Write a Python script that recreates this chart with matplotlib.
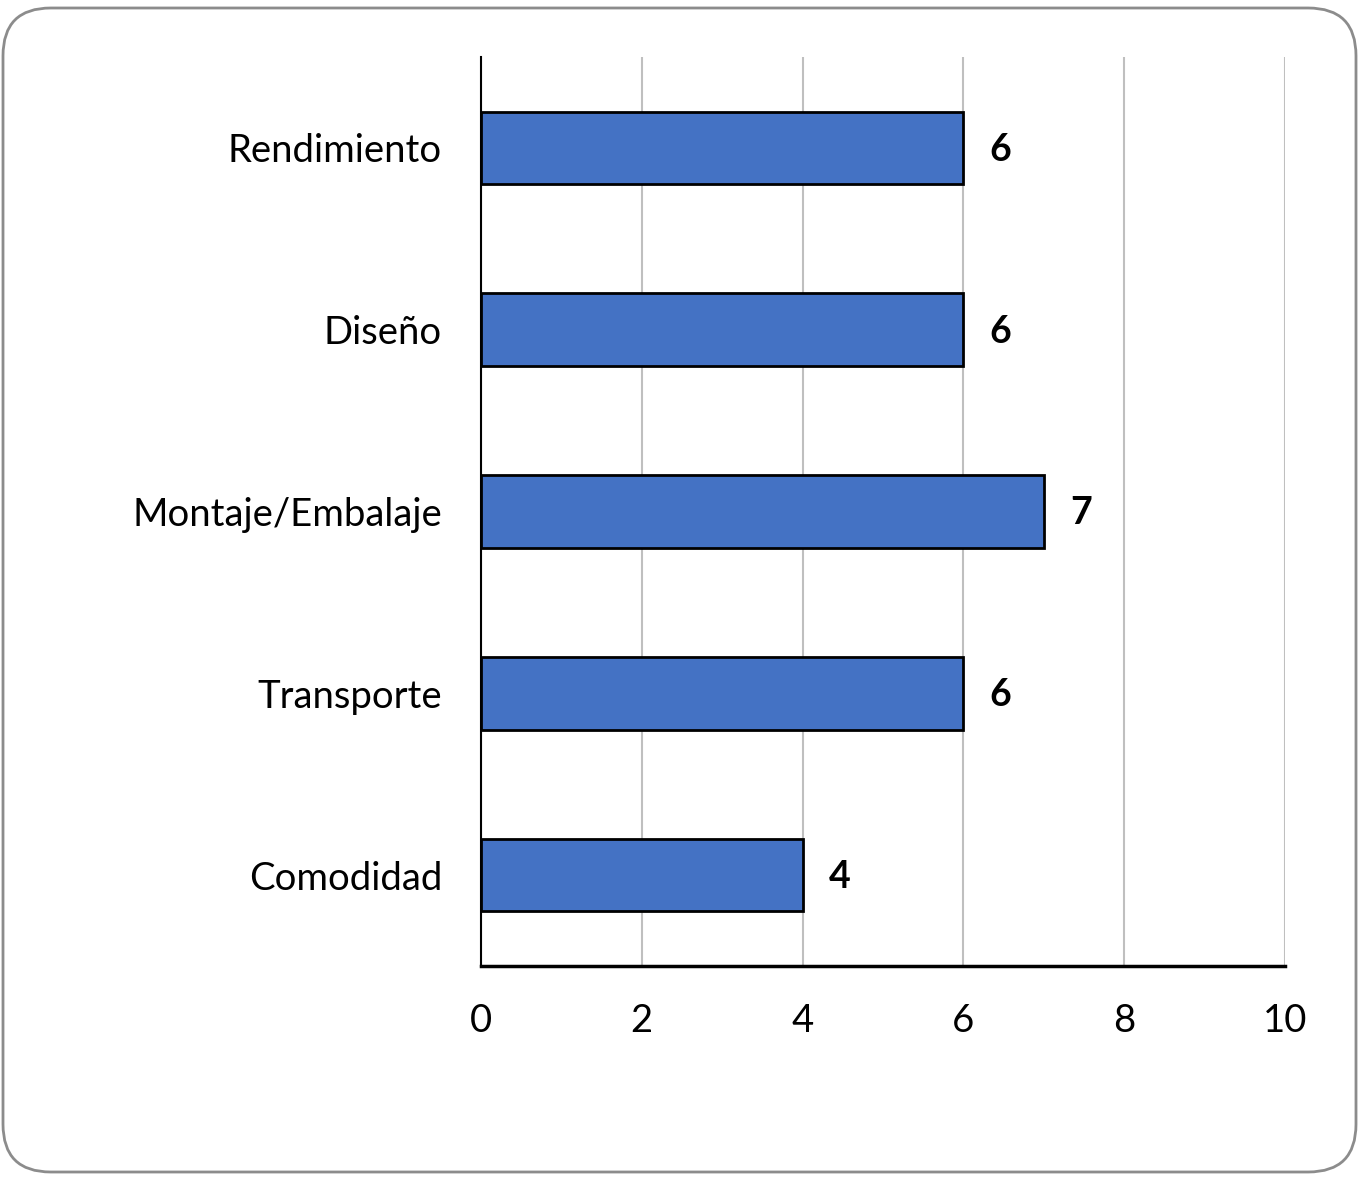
import matplotlib
matplotlib.use("Agg")
import matplotlib.pyplot as plt
from matplotlib.patches import FancyBboxPatch

categories = ["Rendimiento", "Diseño", "Montaje/Embalaje", "Transporte", "Comodidad"]
values = [6, 6, 7, 6, 4]
xticks = [0, 2, 4, 6, 8, 10]

plt.rcParams['font.family'] = ['Lato', 'DejaVu Sans']

fig = plt.figure(figsize=(13.65, 11.77), dpi=100)
border = FancyBboxPatch((3/1365, 5/1177), 1353/1365, 1164/1177,
                        boxstyle="round,pad=0,rounding_size=0.035",
                        transform=fig.transFigure, facecolor='none',
                        edgecolor='#8c8c8c', linewidth=2, mutation_aspect=1365/1177,
                        zorder=-1)
fig.patches.append(border)

ax = fig.add_axes([481/1365, (1177-966)/1177, 804/1365, 909/1177])
ax.set_facecolor('none')
y = list(range(len(categories)))
ax.barh(y, values, height=0.40, color='#4472C4', edgecolor='black', linewidth=2, zorder=3)
for yi, v in zip(y, values):
    ax.text(v + 0.46, yi + 0.01, str(v), va='center', ha='center',
            fontsize=27, fontweight='bold', color='black', zorder=4)

ax.set_xlim(0, 10)
ax.set_ylim(len(categories) - 0.5, -0.5)
ax.set_yticks(y)
ax.set_yticklabels(categories, fontsize=27.5)
ax.set_xticks(xticks)
ax.set_xticklabels([str(t) for t in xticks], fontsize=27.5)
ax.tick_params(axis='both', length=0)
ax.tick_params(axis='y', pad=28)
ax.tick_params(axis='x', pad=27)
ax.grid(axis='x', color='#BFBFBF', linewidth=1.5, zorder=0)
ax.set_axisbelow(True)
for s in ['top', 'right']:
    ax.spines[s].set_visible(False)
ax.spines['left'].set_linewidth(1.5)
ax.spines['bottom'].set_linewidth(2.5)

fig.savefig('out.png', dpi=100)
